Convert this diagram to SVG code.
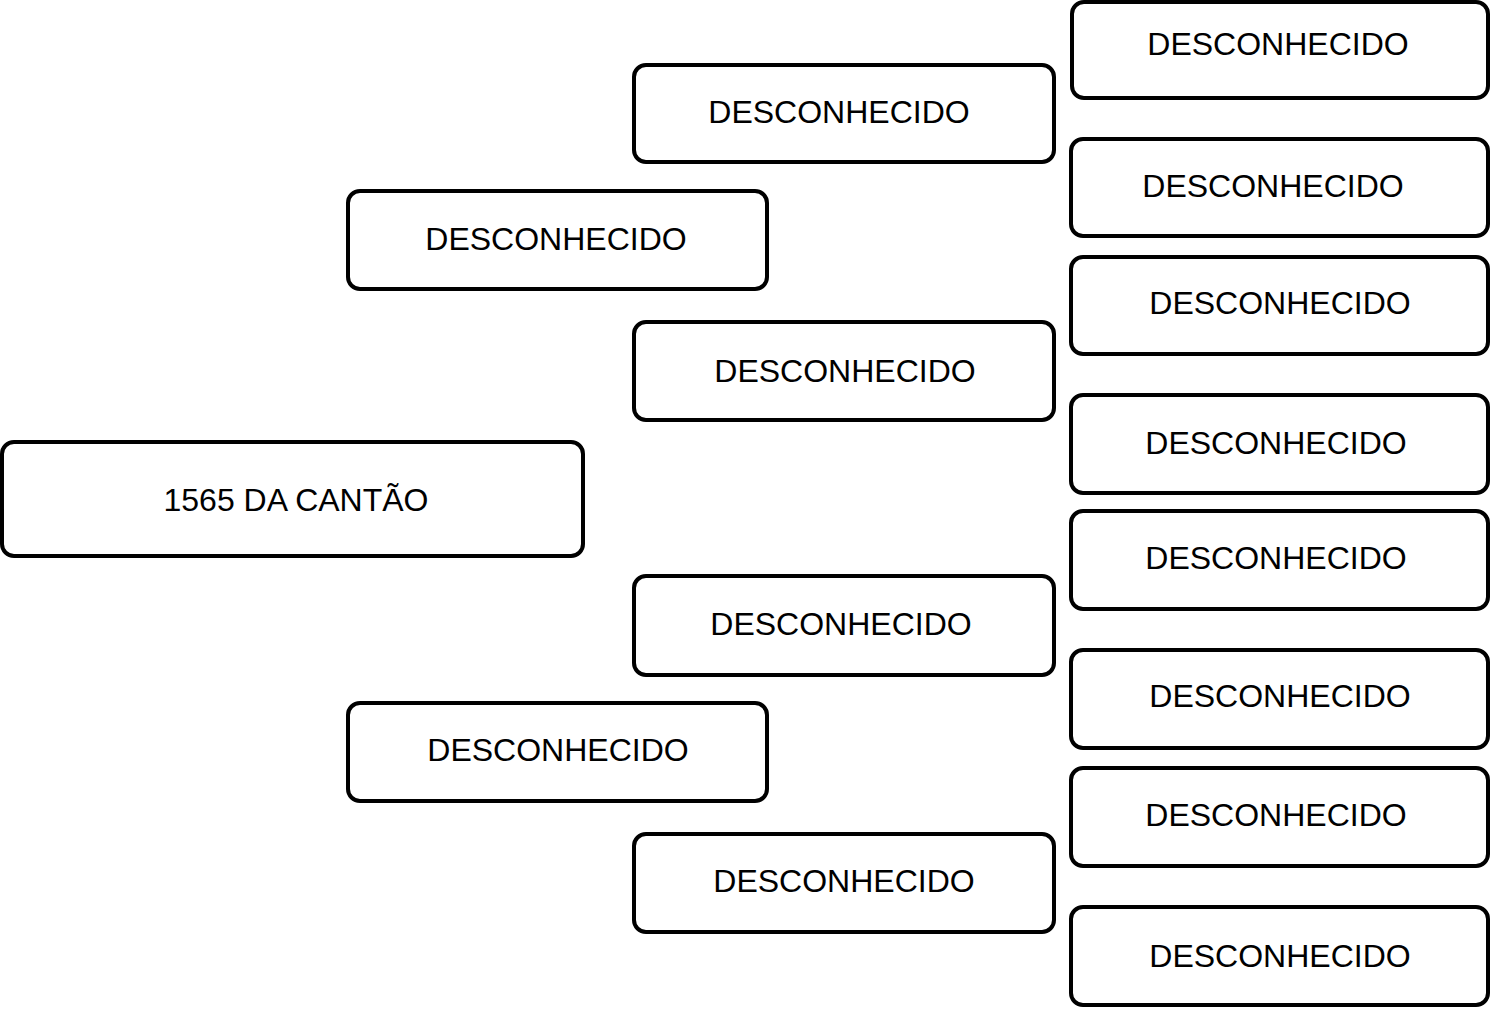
<svg xmlns="http://www.w3.org/2000/svg" width="1490" height="1011" viewBox="0 0 1490 1011">
<style>
.box{fill:#fff;stroke:#000;stroke-width:4}
.t{font-family:"Liberation Sans",Arial,sans-serif;font-size:32px;fill:#000;text-anchor:middle}
</style>
<rect width="1490" height="1011" fill="#fff"/>
<g id="connectors"></g>
<g id="n0"><rect class="box" x="2" y="442" width="581" height="114" rx="12"/><text class="t" x="296" y="511">1565 DA CANTÃO</text></g>
<g id="n1"><rect class="box" x="348" y="191" width="419" height="98" rx="12"/><text class="t" x="556" y="250">DESCONHECIDO</text></g>
<g id="n2"><rect class="box" x="348" y="703" width="419" height="98" rx="12"/><text class="t" x="558" y="761">DESCONHECIDO</text></g>
<g id="n3"><rect class="box" x="634" y="65" width="420" height="97" rx="12"/><text class="t" x="839" y="123">DESCONHECIDO</text></g>
<g id="n4"><rect class="box" x="634" y="322" width="420" height="98" rx="12"/><text class="t" x="845" y="382">DESCONHECIDO</text></g>
<g id="n5"><rect class="box" x="634" y="576" width="420" height="99" rx="12"/><text class="t" x="841" y="635">DESCONHECIDO</text></g>
<g id="n6"><rect class="box" x="634" y="834" width="420" height="98" rx="12"/><text class="t" x="844" y="892">DESCONHECIDO</text></g>
<g id="n7"><rect class="box" x="1072" y="2" width="416" height="96" rx="12"/><text class="t" x="1278" y="55">DESCONHECIDO</text></g>
<g id="n8"><rect class="box" x="1071" y="139" width="417" height="97" rx="12"/><text class="t" x="1273" y="197">DESCONHECIDO</text></g>
<g id="n9"><rect class="box" x="1071" y="257" width="417" height="97" rx="12"/><text class="t" x="1280" y="314">DESCONHECIDO</text></g>
<g id="n10"><rect class="box" x="1071" y="395" width="417" height="98" rx="12"/><text class="t" x="1276" y="454">DESCONHECIDO</text></g>
<g id="n11"><rect class="box" x="1071" y="511" width="417" height="98" rx="12"/><text class="t" x="1276" y="569">DESCONHECIDO</text></g>
<g id="n12"><rect class="box" x="1071" y="650" width="417" height="98" rx="12"/><text class="t" x="1280" y="707">DESCONHECIDO</text></g>
<g id="n13"><rect class="box" x="1071" y="768" width="417" height="98" rx="12"/><text class="t" x="1276" y="826">DESCONHECIDO</text></g>
<g id="n14"><rect class="box" x="1071" y="907" width="417" height="98" rx="12"/><text class="t" x="1280" y="967">DESCONHECIDO</text></g>
</svg>
